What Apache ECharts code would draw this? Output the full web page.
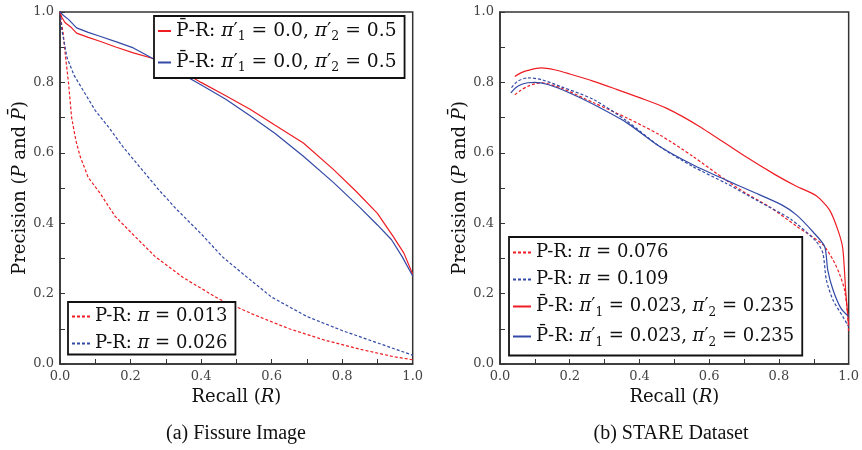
<!DOCTYPE html>
<html>
<head>
<meta charset="utf-8">
<script src="https://cdn.jsdelivr.net/npm/echarts@6.0.0/dist/echarts.min.js"></script>
<style>html,body{margin:0;padding:0;background:#fff;}#c{width:862px;height:450px;}</style>
</head>
<body>
<div id="c"></div>
<script>
// ---------- DATA ----------
// (a) Fissure Image
const fisDashRedR = [0, 0.004, 0.009, 0.016, 0.024, 0.033, 0.045, 0.057, 0.08, 0.113, 0.156, 0.2, 0.27, 0.35, 0.45, 0.55, 0.65, 0.75, 0.85, 0.95, 1.0];
const fisDashRedP = [1.0, 0.97, 0.94, 0.87, 0.80, 0.70, 0.635, 0.59, 0.53, 0.486, 0.42, 0.375, 0.305, 0.245, 0.185, 0.14, 0.1, 0.068, 0.042, 0.02, 0.012];
const fisDashBlueR = [0, 0.005, 0.02, 0.04, 0.07, 0.1, 0.14, 0.18, 0.23, 0.28, 0.33, 0.4, 0.46, 0.52, 0.6, 0.7, 0.8, 0.9, 1.0];
const fisDashBlueP = [1.0, 0.95, 0.87, 0.82, 0.77, 0.72, 0.67, 0.615, 0.555, 0.495, 0.44, 0.37, 0.305, 0.255, 0.19, 0.135, 0.095, 0.06, 0.025];
const fisBarRedR = [0, 0.005, 0.014, 0.033, 0.047, 0.08, 0.113, 0.16, 0.208, 0.274, 0.34, 0.4, 0.47, 0.54, 0.61, 0.69, 0.775, 0.84, 0.9, 0.945, 0.975, 1.0];
const fisBarRedP = [1.0, 0.985, 0.97, 0.955, 0.94, 0.928, 0.917, 0.9, 0.884, 0.865, 0.835, 0.8, 0.762, 0.723, 0.678, 0.628, 0.553, 0.49, 0.428, 0.362, 0.315, 0.255];
const fisBarBlueR = [0, 0.01, 0.024, 0.047, 0.08, 0.113, 0.16, 0.208, 0.25, 0.293, 0.34, 0.397, 0.47, 0.539, 0.61, 0.69, 0.775, 0.85, 0.9, 0.94, 0.97, 1.0];
const fisBarBlueP = [1.0, 0.99, 0.979, 0.955, 0.942, 0.931, 0.915, 0.898, 0.875, 0.851, 0.827, 0.795, 0.752, 0.705, 0.655, 0.59, 0.516, 0.445, 0.395, 0.353, 0.305, 0.25];

// (b) STARE Dataset
const stDashRedR = [0.0425, 0.06, 0.08, 0.10, 0.118, 0.175, 0.269, 0.364, 0.458, 0.553, 0.647, 0.704, 0.775, 0.851, 0.926, 0.955, 0.973, 0.988, 0.997, 1.0];
const stDashRedP = [0.765, 0.778, 0.789, 0.796, 0.799, 0.784, 0.742, 0.699, 0.651, 0.59, 0.523, 0.486, 0.445, 0.391, 0.339, 0.296, 0.258, 0.211, 0.144, 0.087];
const stDashBlueR = [0.033, 0.05, 0.08, 0.118, 0.175, 0.269, 0.364, 0.458, 0.553, 0.647, 0.742, 0.836, 0.907, 0.926, 0.936, 0.955, 0.983, 1.0];
const stDashBlueP = [0.785, 0.803, 0.813, 0.808, 0.788, 0.751, 0.69, 0.618, 0.561, 0.514, 0.462, 0.41, 0.348, 0.315, 0.239, 0.182, 0.135, 0.106];
const stBarRedR = [0.0425, 0.06, 0.08, 0.118, 0.156, 0.2, 0.269, 0.335, 0.402, 0.477, 0.572, 0.695, 0.789, 0.85, 0.907, 0.945, 0.969, 0.983, 0.992, 1.0];
const stBarRedP = [0.817, 0.827, 0.834, 0.841, 0.836, 0.824, 0.803, 0.78, 0.756, 0.727, 0.675, 0.595, 0.538, 0.505, 0.478, 0.438, 0.381, 0.329, 0.2, 0.11];
const stBarBlueR = [0.031, 0.045, 0.061, 0.08, 0.099, 0.137, 0.2, 0.269, 0.364, 0.458, 0.553, 0.647, 0.723, 0.808, 0.851, 0.898, 0.931, 0.94, 0.955, 0.978, 1.0];
const stBarBlueP = [0.77, 0.785, 0.794, 0.799, 0.8, 0.794, 0.77, 0.737, 0.685, 0.618, 0.566, 0.523, 0.49, 0.452, 0.423, 0.375, 0.334, 0.267, 0.211, 0.158, 0.135];

// tick values / texts
const axisMin = 0, axisMax = 1, tickStep = 0.1;
const captions = ['(a) Fissure Image', '(b) STARE Dataset'];

// legend texts (rich)
const legendText = {
  fisBarRed:  '{n|P\u0304-R: }{i|\u03c0}{n|\u2032}{s|1}{n| = 0.0, }{i|\u03c0}{n|\u2032}{s|2}{n| = 0.5}',
  fisBarBlue: '{n|P\u0304-R: }{i|\u03c0}{n|\u2032}{s|1}{n| = 0.0, }{i|\u03c0}{n|\u2032}{s|2}{n| = 0.5}',
  fisDashRed: '{n|P-R: }{i|\u03c0}{n| = 0.013}',
  fisDashBlue:'{n|P-R: }{i|\u03c0}{n| = 0.026}',
  stDashRed:  '{n|P-R: }{i|\u03c0}{n| = 0.076}',
  stDashBlue: '{n|P-R: }{i|\u03c0}{n| = 0.109}',
  stBarRed:   '{n|P\u0304-R: }{i|\u03c0}{n|\u2032}{s|1}{n| = 0.023, }{i|\u03c0}{n|\u2032}{s|2}{n| = 0.235}',
  stBarBlue:  '{n|P\u0304-R: }{i|\u03c0}{n|\u2032}{s|1}{n| = 0.023, }{i|\u03c0}{n|\u2032}{s|2}{n| = 0.235}'
};

// ---------- STYLE ----------
const RED = '#ee1d23', BLUE = '#3349a6';
const SERIF = 'DejaVu Serif';
const zip = (a, b) => a.map((v, i) => [v, b[i]]);

function richLegend(fs) {
  return {
    n: {fontFamily: SERIF, fontSize: fs, lineHeight: 24, color: '#111'},
    i: {fontFamily: SERIF, fontStyle: 'italic', fontSize: fs, lineHeight: 24, color: '#111'},
    s: {fontFamily: SERIF, fontSize: fs * 0.67, lineHeight: 12, verticalAlign: 'bottom', color: '#111'}
  };
}
const richName = {
  n: {fontFamily: SERIF, fontSize: 18, color: '#111'},
  i: {fontFamily: SERIF, fontStyle: 'italic', fontSize: 18, color: '#111'}
};

function xAxisCfg(g) {
  return {
    type: 'value', gridIndex: g, min: axisMin, max: axisMax, interval: tickStep,
    axisLine: {show: true, lineStyle: {color: '#333', width: 1.5}},
    axisTick: {show: true, inside: true, length: 5, lineStyle: {color: '#333', width: 1}},
    axisLabel: {
      show: true, margin: 6, fontFamily: SERIF, fontSize: 13, color: '#444',
      formatter: v => (Math.round(v * 10) % 2 === 0 ? v.toFixed(1) : '')
    },
    splitLine: {show: false},
    name: '{n|Recall (}{i|R}{n|)}', nameLocation: 'middle', nameGap: 22,
    nameTextStyle: {rich: richName}
  };
}
function yAxisCfg(g) {
  return {
    type: 'value', gridIndex: g, min: axisMin, max: axisMax, interval: tickStep,
    axisLine: {show: true, lineStyle: {color: '#333', width: 1.5}},
    axisTick: {show: true, inside: true, length: 5, lineStyle: {color: '#333', width: 1}},
    axisLabel: {
      show: true, margin: 6, fontFamily: SERIF, fontSize: 13, color: '#444',
      formatter: v => (Math.round(v * 10) % 2 === 0 ? v.toFixed(1) : '')
    },
    splitLine: {show: false},
    name: '{n|Precision (}{i|P}{n| and }{i|P\u0304}{n|)}', nameLocation: 'middle', nameGap: 31,
    nameTextStyle: {rich: richName}
  };
}
function line(name, g, data, color, dashed, smooth) {
  return {
    name: name, type: 'line', xAxisIndex: g, yAxisIndex: g,
    data: data, symbol: 'none', showSymbol: false, smooth: smooth,
    lineStyle: {color: color, width: 1.2, type: dashed ? [3, 2] : 'solid'},
    itemStyle: {color: color}, emphasis: {disabled: true}, clip: true
  };
}
function legendCfg(names, left, top, itemGap, itemWidth, padding, fs) {
  return {
    show: true, orient: 'vertical', left: left, top: top, data: names,
    itemGap: itemGap, itemWidth: itemWidth, itemHeight: 12, padding: padding,
    borderColor: '#111', borderWidth: 1.8, backgroundColor: '#fff',
    selectedMode: false,
    itemStyle: {opacity: 0},
    formatter: n => legendText[n],
    textStyle: {fontFamily: SERIF, fontSize: fs, color: '#111', rich: richLegend(fs)}
  };
}

const chart = echarts.init(document.getElementById('c'), null, {renderer: 'canvas'});
chart.setOption({
  animation: false,
  backgroundColor: '#fff',
  title: [
    {text: captions[0], left: 236, top: 424, textAlign: 'center', padding: 0,
     textStyle: {fontFamily: 'Liberation Serif', fontSize: 20, fontWeight: 'normal', color: '#111'}},
    {text: captions[1], left: 671, top: 424, textAlign: 'center', padding: 0,
     textStyle: {fontFamily: 'Liberation Serif', fontSize: 20, fontWeight: 'normal', color: '#111'}}
  ],
  grid: [
    {left: 60, top: 12, width: 352.7, height: 352, show: true, borderColor: '#333', borderWidth: 1.5, backgroundColor: 'transparent', containLabel: false},
    {left: 500, top: 12, width: 352.7, height: 352, show: true, borderColor: '#333', borderWidth: 1.5, backgroundColor: 'transparent', containLabel: false}
  ],
  xAxis: [xAxisCfg(0), xAxisCfg(1)],
  yAxis: [yAxisCfg(0), yAxisCfg(1)],
  legend: [
    legendCfg(['fisBarRed', 'fisBarBlue'], 154, 16, 10, 13, [5.5, 8, 3.5, 3], 18.7),
    legendCfg(['fisDashRed', 'fisDashBlue'], 68, 302, 9, 18, [5.5, 8, 2, 3], 18),
    legendCfg(['stDashRed', 'stDashBlue', 'stBarRed', 'stBarBlue'], 509, 237, 9, 18, [6.5, 8, 7, 3], 18)
  ],
  series: [
    line('fisDashRed', 0, zip(fisDashRedR, fisDashRedP), RED, true, false),
    line('fisDashBlue', 0, zip(fisDashBlueR, fisDashBlueP), BLUE, true, false),
    line('fisBarRed', 0, zip(fisBarRedR, fisBarRedP), RED, false, false),
    line('fisBarBlue', 0, zip(fisBarBlueR, fisBarBlueP), BLUE, false, false),
    line('stDashRed', 1, zip(stDashRedR, stDashRedP), RED, true, 0.25),
    line('stDashBlue', 1, zip(stDashBlueR, stDashBlueP), BLUE, true, 0.25),
    line('stBarRed', 1, zip(stBarRedR, stBarRedP), RED, false, 0.25),
    line('stBarBlue', 1, zip(stBarBlueR, stBarBlueP), BLUE, false, 0.25)
  ]
});
</script>
</body>
</html>
